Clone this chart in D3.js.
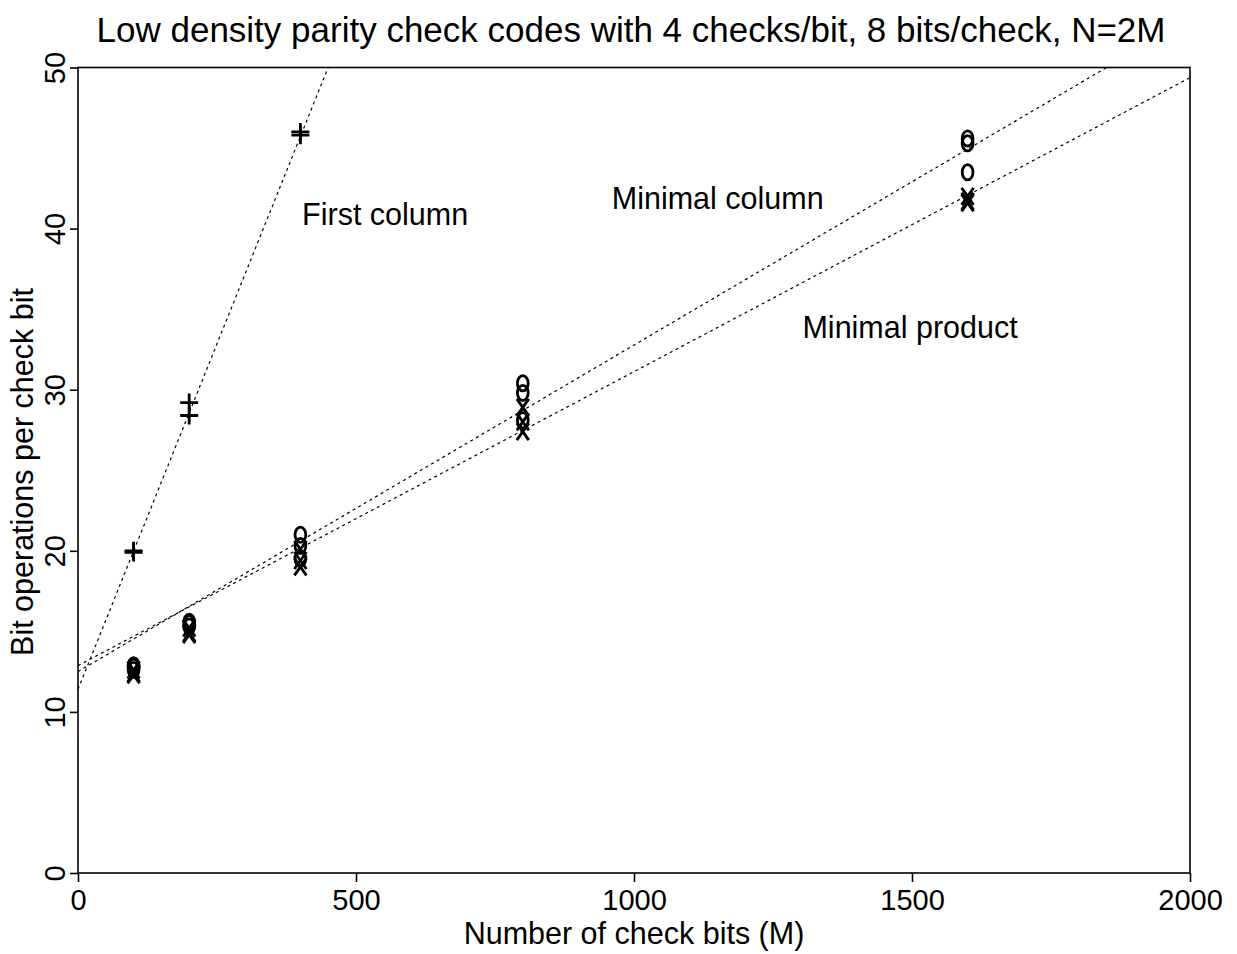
<!DOCTYPE html>
<html>
<head>
<meta charset="utf-8">
<script src="https://cdn.jsdelivr.net/npm/d3@7"></script>
<style>
  body { margin: 0; background: #fff; }
  svg text { font-family: "Liberation Sans", Arial, sans-serif; fill: #000; }
</style>
</head>
<body>
<div id="chart"></div>
<script>
// check bits (M)
const checkBits = [100, 200, 400, 800, 1600];
const xTicks = [0, 500, 1000, 1500, 2000];
const yTicks = [0, 10, 20, 30, 40, 50];

// "+" first column, "o" minimal column, "x" minimal product
const firstColumn = [[20.0, 19.9], [29.2, 28.4], [46.0, 45.8]];
const minimalColumn = [
  [12.9, 12.8, 12.6], [15.6, 15.5, 15.3], [21.0, 20.3, 19.5],
  [30.4, 29.8, 28.1], [45.6, 45.3, 43.5]
];
const minimalProduct = [
  [12.6, 12.4, 12.3], [15.2, 14.9, 14.8], [20.1, 19.4, 19.0],
  [28.9, 28.0, 27.4], [42.0, 41.7, 41.6]
];

// fitted lines: intercept, slope
const fitFirst = [11.4, 0.0858];
const fitMinCol = [12.5, 0.02027];
const fitMinProd = [12.87, 0.01825];

const labels = [
  { text: "First column", x: 403, y: 40.9 },
  { text: "Minimal column", x: 960, y: 41.9 },
  { text: "Minimal product", x: 1303, y: 33.9 }
];

const W = 1237, H = 954;
const m = { top: 67.5, right: 47, bottom: 81, left: 78 };
const w = W - m.left - m.right, h = H - m.top - m.bottom;

const svg = d3.select("#chart").append("svg")
  .attr("width", W).attr("height", H);

svg.append("text")
  .attr("x", 631).attr("y", 42)
  .attr("text-anchor", "middle")
  .style("font-size", "35px")
  .text("Low density parity check codes with 4 checks/bit, 8 bits/check, N=2M");

const g = svg.append("g").attr("transform", `translate(${m.left},${m.top})`);

const x = d3.scaleLinear().domain([0, 2000]).range([0, w]);
const y = d3.scaleLinear().domain([0, 50]).range([h, 0]);

g.append("clipPath").attr("id", "clip")
  .append("rect").attr("width", w).attr("height", h);

// fitted dotted lines
const line = d3.line().x(d => x(d[0])).y(d => y(d[1]));
[fitFirst, fitMinCol, fitMinProd].forEach(f => {
  const pts = [0, 2000].map(v => [v, f[0] + f[1] * v]);
  g.append("path")
    .attr("d", line(pts))
    .attr("clip-path", "url(#clip)")
    .attr("fill", "none")
    .attr("stroke", "#000")
    .attr("stroke-width", 1.2)
    .attr("stroke-dasharray", "3,3.5");
});

// frame
g.append("rect").attr("width", w).attr("height", h)
  .attr("fill", "none").attr("stroke", "#000").attr("stroke-width", 1.6);

// axes
const xAxis = g.append("g").attr("transform", `translate(0,${h})`)
  .call(d3.axisBottom(x).tickValues(xTicks).tickSize(9).tickFormat(d3.format("d")));
xAxis.select(".domain").remove();
xAxis.selectAll("line").attr("stroke-width", 1.6);
xAxis.selectAll("text")
  .style("font-size", "29px")
  .attr("dy", null).attr("y", 37);

const yAxis = g.append("g")
  .call(d3.axisLeft(y).tickValues(yTicks).tickSize(8));
yAxis.select(".domain").remove();
yAxis.selectAll("line").attr("stroke-width", 1.6);
yAxis.selectAll("text")
  .style("font-size", "29px")
  .attr("dy", null).attr("x", null)
  .attr("text-anchor", "middle")
  .attr("transform", "translate(-13,0) rotate(-90)");

svg.selectAll(".tick text").attr("font-family", null);

svg.append("text")
  .attr("x", m.left + w / 2).attr("y", 944)
  .attr("text-anchor", "middle")
  .style("font-size", "30.5px")
  .text("Number of check bits (M)");

svg.append("text")
  .attr("transform", "translate(33,472) rotate(-90)")
  .attr("text-anchor", "middle")
  .style("font-size", "30.5px")
  .text("Bit operations per check bit");

// markers
const pts = (arr) => arr.flatMap((vals, i) => vals.map(v => [checkBits[i], v]));
const mk = g.append("g").attr("fill", "none").attr("stroke", "#000").attr("stroke-width", 2.8);

mk.selectAll(".plus").data(pts(firstColumn)).enter().append("path")
  .attr("transform", d => `translate(${x(d[0])},${y(d[1])})`)
  .attr("d", "M-9,0H9M0,-9V9");

mk.selectAll(".circ").data(pts(minimalColumn)).enter().append("ellipse")
  .attr("cx", d => x(d[0])).attr("cy", d => y(d[1]))
  .attr("rx", 5.4).attr("ry", 7.6);

mk.selectAll(".cross").data(pts(minimalProduct)).enter().append("path")
  .attr("transform", d => `translate(${x(d[0])},${y(d[1])})`)
  .attr("d", "M-6,-8.5L6,8.5M6,-8.5L-6,8.5");

// annotations
g.selectAll(".lab").data(labels).enter().append("text")
  .attr("x", d => x(d.x)).attr("y", d => y(d.y) + 11)
  .style("font-size", "30.5px")
  .text(d => d.text);
</script>
</body>
</html>
